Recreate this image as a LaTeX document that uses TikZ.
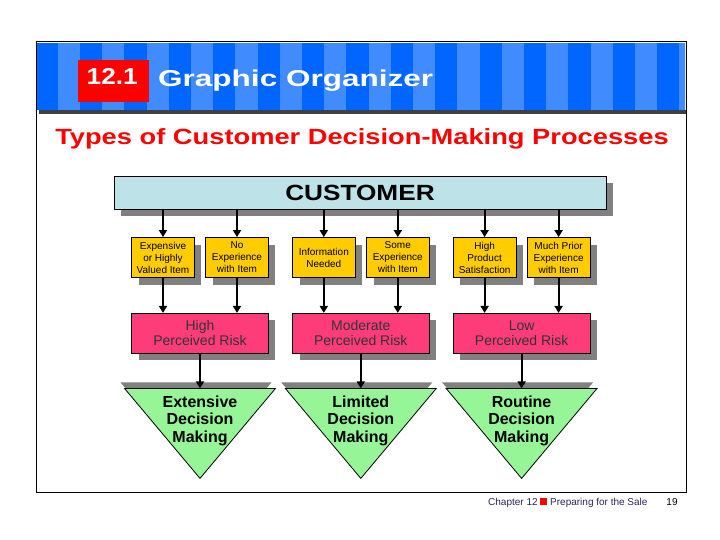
\documentclass[tikz,border=0pt]{standalone}
\usepackage{fontspec}
\setmainfont{Liberation Sans}
\usetikzlibrary{arrows.meta, positioning, shadows}

\definecolor{bandblue}{RGB}{0,102,255}
\definecolor{stripeblue}{RGB}{64,140,255}
\definecolor{custblue}{RGB}{189,226,232}
\definecolor{itemgold}{RGB}{255,204,0}
\definecolor{riskpink}{RGB}{255,60,122}
\definecolor{decgreen}{RGB}{150,245,150}
\definecolor{shadowgray}{RGB}{128,128,128}
\definecolor{footnavy}{RGB}{40,40,90}

\begin{document}
\begin{tikzpicture}[x=1pt, y=-1pt,
        box/.style={draw, line width=0.8pt, drop shadow={shadow xshift=7pt, shadow yshift=-7pt, fill=shadowgray, opacity=1}},
        customer/.style={box, fill=custblue, minimum width=492pt, minimum height=33pt, font=\fontsize{22pt}{24pt}\selectfont\bfseries},
        item/.style={box, fill=itemgold, minimum width=62.6pt, minimum height=40pt, inner sep=0pt, align=center, font=\fontsize{10pt}{12pt}\selectfont},
        risk/.style={box, fill=riskpink, minimum width=136.6pt, minimum height=40pt, inner sep=0pt, align=center, text=black!80, font=\fontsize{14pt}{15pt}\selectfont},
        decision/.style={align=center, inner sep=0pt, font=\fontsize{16pt}{17.5pt}\selectfont\bfseries},
        line/.style={-{Triangle[length=7pt,width=8pt]}, line width=2pt}
    ]
        \useasboundingbox (0,0) rectangle (720,540);
        \fill[white] (0,0) rectangle (720,540);

        % Header band
        \fill[black!75] (39,110) rectangle (686,114);
        \fill[bandblue] (37,43) rectangle (685,110);
        \begin{scope}
            \clip (37,43) rectangle (685,110);
            \foreach \i in {0,...,14}
                \fill[stripeblue] ({57.7+44.4*\i},43) rectangle ({79.9+44.4*\i},110);
        \end{scope}
        \draw[line width=1pt] (36,42) rectangle (686,492);

        \node[fill=red, minimum width=70.4pt, minimum height=41.7pt] (secbox) at (113.5,80.8) {};
        \node[anchor=base, inner sep=0pt, text=white, font=\fontsize{23pt}{25pt}\selectfont\bfseries] (secnum) at (112.2,85) {\scalebox{1.14}[1]{12.1}};
        \node[anchor=base west, inner sep=0pt, text=white, font=\fontsize{23pt}{25pt}\selectfont\bfseries] (slidetitle) at (158,86.7) {\scalebox{1.37}[1]{Graphic Organizer}};

        \node[anchor=base, inner sep=0pt, text=red, font=\fontsize{22pt}{24pt}\selectfont\bfseries] (heading) at (362,145) {\scalebox{1.24}[1]{Types of Customer Decision-Making Processes}};

        % Customer bar
        \node[customer] (cust) at (360,192.5) {\scalebox{1.19}[1]{CUSTOMER}};

        % Perceived risk
        \node[risk] (risk1) at (200,333.3) {High\\Perceived Risk};
        \node[risk, right=23.4pt of risk1] (risk2) {Moderate\\Perceived Risk};
        \node[risk, right=23.4pt of risk2] (risk3) {Low\\Perceived Risk};

        % Situations
        \node[item, above right=35pt and 0pt of risk1.north west] (expensive) {Expensive\\or Highly\\Valued Item};
        \node[item, above left=35pt and 0pt of risk1.north east] (noexp) {No\\Experience\\with Item};
        \node[item, above right=35pt and 0pt of risk2.north west] (info) {Information\\Needed};
        \node[item, above left=35pt and 0pt of risk2.north east] (someexp) {Some\\Experience\\with Item};
        \node[item, above right=35pt and 0pt of risk3.north west] (satisf) {High\\Product\\Satisfaction};
        \node[item, above left=35pt and 0pt of risk3.north east] (priorexp) {Much Prior\\Experience\\with Item};

        \foreach \s/\r in {expensive/risk1, noexp/risk1, info/risk2, someexp/risk2, satisf/risk3, priorexp/risk3} {
            \draw[line] (cust.south -| \s) -- (\s);
            \draw[line] (\s) -- (\s |- \r.north);
        }

        % Decision making
        \foreach \n/\txt in {1/Extensive, 2/Limited, 3/Routine} {
            \coordinate (dectop\n) at ([yshift=-34.7pt]risk\n.south);
            \fill[shadowgray] ([shift={(-79.5pt,6pt)}]dectop\n) -- ([shift={(71.5pt,6pt)}]dectop\n) -- ([shift={(-4pt,-84pt)}]dectop\n) -- cycle;
            \draw[line width=0.8pt, fill=decgreen] ([xshift=-75.5pt]dectop\n) -- ([xshift=75.5pt]dectop\n) -- ([yshift=-90pt]dectop\n) -- cycle;
            \node[decision, below=7pt of dectop\n] (dec\n) {\txt\\Decision\\Making};
            \draw[line] (risk\n) -- (dectop\n);
        }

        % Footer
        \node[anchor=base west, inner sep=0pt, text=footnavy, font=\fontsize{10pt}{12pt}\selectfont] (chapter) at (488,505) {Chapter 12 \textcolor{red}{\rule{7pt}{7pt}} Preparing for the Sale};
        \node[anchor=base, inner sep=0pt, font=\fontsize{10pt}{12pt}\selectfont] (page) at (672,505) {19};
    \end{tikzpicture}
\end{document}
